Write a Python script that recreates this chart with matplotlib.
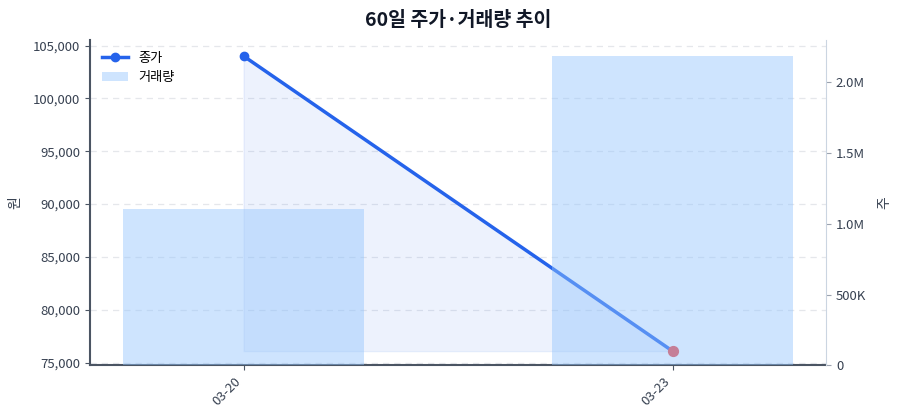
import matplotlib
matplotlib.use('Agg')
import matplotlib.pyplot as plt
from matplotlib.ticker import FuncFormatter, MultipleLocator
from matplotlib.patches import Patch
from matplotlib.lines import Line2D

plt.rcParams['font.family'] = ['Noto Sans CJK KR', 'DejaVu Sans']

dates = ['03-20', '03-23']
close = [104000, 76100]
volume = [1102000, 2180000]

title = '60일 주가·거래량 추이'

fig, ax = plt.subplots(figsize=(9, 4.2), dpi=100)
fig.subplots_adjust(left=0.1, right=0.918, bottom=0.13, top=0.905)

x = list(range(len(dates)))

# price: fill + line on left axis
ax.fill_between(x, close, min(close), color='#2563eb', alpha=0.08, linewidth=1)
ax.plot(x, close, color='#2563eb', linewidth=2.5, zorder=3)
ax.scatter(x[:-1], close[:-1], color='#2563eb', s=36, zorder=4)
ax.scatter(x[-1:], close[-1:], color='#ef4444', s=50, zorder=4)

ax.set_ylim(74750, 105530)
ax.yaxis.set_major_locator(MultipleLocator(5000))
ax.yaxis.set_major_formatter(FuncFormatter(lambda v, p: f'{v:,.0f}'))
ax.grid(axis='y', linestyle=(0, (5, 4)), color='#e5e7eb', linewidth=0.9)
ax.set_axisbelow(True)
ax.set_ylabel('원', fontsize=10, color='#374151', labelpad=8)

for s in ['top', 'right']:
    ax.spines[s].set_visible(False)
for s in ['left', 'bottom']:
    ax.spines[s].set_color('#4b5563')
    ax.spines[s].set_linewidth(1.5)
ax.tick_params(axis='both', colors='#4b5563', labelcolor='#374151', labelsize=9.5)

ax.set_xticks(x)
ax.set_xticklabels(dates, rotation=45, ha='right')

# volume bars on right axis
ax2 = ax.twinx()
ax2.bar(x, volume, width=0.56, color='#93c5fd', alpha=0.45, zorder=1)
ax2.set_ylim(0, 2297000)


def vol_fmt(v, p):
    if v == 0:
        return '0'
    if v >= 1e6:
        return f'{v / 1e6:.1f}M'
    return f'{v / 1e3:.0f}K'


ax2.yaxis.set_major_locator(MultipleLocator(500000))
ax2.yaxis.set_major_formatter(FuncFormatter(vol_fmt))
ax2.set_ylabel('주', fontsize=10, color='#374151', labelpad=8)
for s in ['top', 'left', 'bottom']:
    ax2.spines[s].set_visible(False)
ax2.spines['right'].set_color('#cbd5e1')
ax2.tick_params(axis='y', colors='#9ca3af', labelcolor='#374151', labelsize=9.5)
ax.set_xlim(-0.358, 1.358)

handles = [Line2D([0], [0], color='#2563eb', linewidth=2.5, marker='o', markersize=6),
           Patch(facecolor='#93c5fd', alpha=0.45)]
ax2.legend(handles, ['종가', '거래량'], loc='upper left', frameon=False, fontsize=9.5)

ax.set_title(title, fontsize=14, fontweight='bold', color='#111827', pad=10)

fig.savefig('out.png', dpi=100)
